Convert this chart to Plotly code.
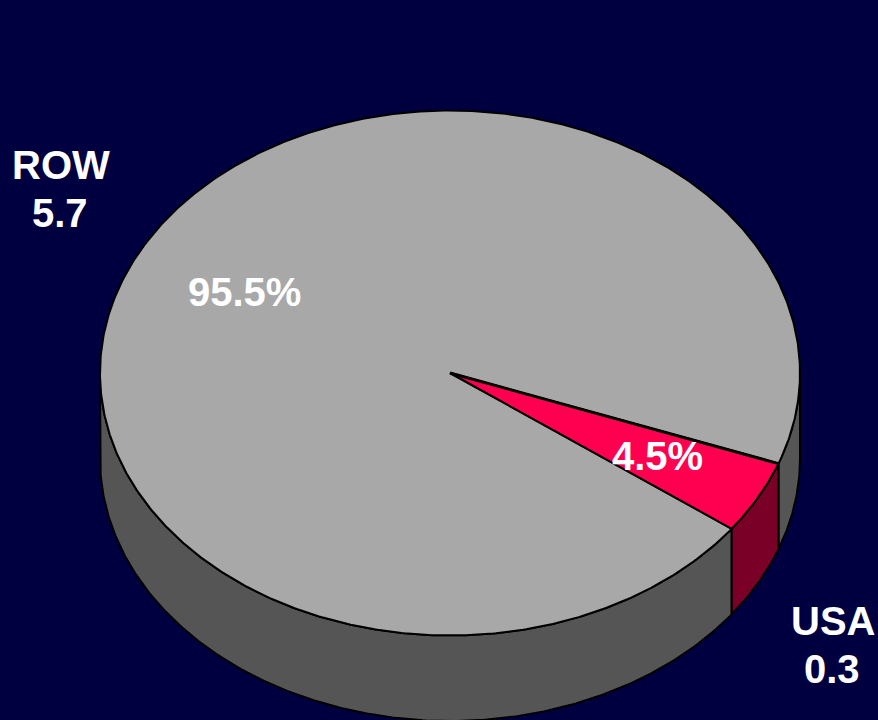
import numpy as np
import plotly.graph_objects as go

# Data
categories = ["ROW", "USA"]
amounts = [5.7, 0.3]
shares = [95.5, 4.5]

# Style
TOP = ["#A8A8A8", "#FF0050"]
SIDE = ["#555555", "#7A0028"]
BG = "#000040"
FONT = "Liberation Sans"

# Pie geometry, in the 878x720 pixel frame
CX, CY, RX, RY, DEPTH = 450.0, 373.0, 350.0, 262.5, 85.5
START_DEG = 36.4   # clockwise from east, where the first slice starts


def rim(t0, t1):
    n = max(2, int(abs(t1 - t0)) * 2 + 2)
    return np.radians(np.linspace(t0, t1, n))


spans, a = [], START_DEG
for s in shares:
    spans.append((a, a + s * 3.6))
    a += s * 3.6

fig = go.Figure()


def poly(xs, ys, fill, width):
    fig.add_trace(go.Scatter(
        x=xs, y=ys, mode="lines", fill="toself", fillcolor=fill,
        line=dict(color="black", width=width), hoverinfo="skip", showlegend=False,
    ))


# Side walls: only the front half (0 to 180 degrees) is visible
for (t0, t1), col in zip(spans, SIDE):
    for k in (-1, 0, 1):
        lo, hi = max(t0 + 360 * k, 0), min(t1 + 360 * k, 180)
        if hi <= lo:
            continue
        t = rim(lo, hi)
        x = CX + RX * np.cos(t)
        y = CY + RY * np.sin(t)
        poly(np.r_[x, x[::-1], x[0]], np.r_[y, y[::-1] + DEPTH, y[0]], col, 2)

# Top faces
for (t0, t1), col in zip(spans, TOP):
    t = rim(t0, t1)
    poly(np.r_[CX, CX + RX * np.cos(t), CX],
         np.r_[CY, CY + RY * np.sin(t), CY], col, 2)

# Heavier edge along the upper side of the small slice
t_edge = np.radians(spans[1][0] % 360)
fig.add_trace(go.Scatter(
    x=[CX, CX + RX * np.cos(t_edge)], y=[CY, CY + RY * np.sin(t_edge)],
    mode="lines", line=dict(color="black", width=3), hoverinfo="skip", showlegend=False,
))

label_font = dict(family=FONT, size=40, color="white")
notes = [
    (61, 165, f"<b>{categories[0]}</b>"),
    (60, 213, f"<b>{amounts[0]}</b>"),
    (833, 621, f"<b>{categories[1]}</b>"),
    (832, 669, f"<b>{amounts[1]}</b>"),
    (244, 292, f"<b>{shares[0]}%</b>"),
    (657, 456, f"<b>{shares[1]}%</b>"),
]
for x, y, text in notes:
    fig.add_annotation(x=x, y=y, text=text, showarrow=False, font=label_font,
                       xanchor="center", yanchor="middle", align="center")

fig.update_layout(
    width=878, height=720, margin=dict(l=0, r=0, t=0, b=0),
    paper_bgcolor=BG, plot_bgcolor=BG, showlegend=False,
    xaxis=dict(range=[0, 878], visible=False, fixedrange=True),
    yaxis=dict(range=[720, 0], visible=False, fixedrange=True),
)
fig.write_html("out.html", config={"displayModeBar": False})

# Remove the browser's default page margin so the chart fills the window
with open("out.html", encoding="utf-8") as f:
    page = f.read()
page = page.replace(
    "<head>",
    "<head><style>html,body{margin:0;padding:0;overflow:hidden;background:%s}</style>" % BG,
    1,
)
with open("out.html", "w", encoding="utf-8") as f:
    f.write(page)
